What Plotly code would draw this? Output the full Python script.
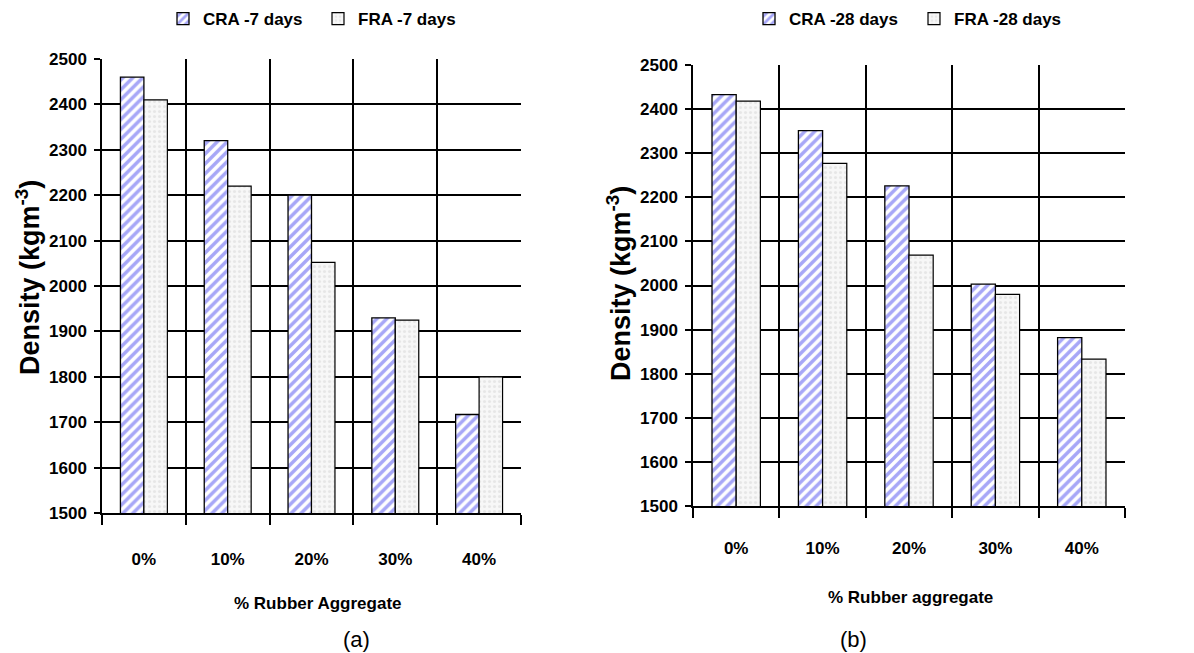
import plotly.graph_objects as go

categories = ["0%", "10%", "20%", "30%", "40%"]
cra_7 = [2460, 2320, 2200, 1930, 1717]
fra_7 = [2410, 2220, 2052, 1925, 1800]
cra_28 = [2433, 2351, 2226, 2003, 1882]
fra_28 = [2418, 2277, 2069, 1980, 1833]
y_ticks = list(range(1500, 2501, 100))

W, H = 1194, 653
ARIAL = "Liberation Sans, Arial, sans-serif"
BLUE = "#4f4ff0"

def px_x(p):
    return p / W

def px_y(p):
    return 1 - p / H

cra_style = dict(color="white", line=dict(color="black", width=1.3),
                 pattern=dict(shape="/", fgcolor=BLUE, bgcolor="white", size=7, solidity=0.5))
fra_style = dict(color="#f7f7f7", line=dict(color="black", width=1.2),
                 pattern=dict(shape=".", fgcolor="#d6d6d6", bgcolor="#f7f7f7", size=5, solidity=0.3))

fig = go.Figure()
fig.add_trace(go.Bar(x=categories, y=cra_7, name="CRA -7 days", marker=cra_style,
                     xaxis="x", yaxis="y", legend="legend"))
fig.add_trace(go.Bar(x=categories, y=fra_7, name="FRA -7 days", marker=fra_style,
                     xaxis="x", yaxis="y", legend="legend"))
fig.add_trace(go.Bar(x=categories, y=cra_28, name="CRA -28 days", marker=cra_style,
                     xaxis="x2", yaxis="y2", legend="legend2"))
fig.add_trace(go.Bar(x=categories, y=fra_28, name="FRA -28 days", marker=fra_style,
                     xaxis="x2", yaxis="y2", legend="legend2"))

tickfont = dict(family=ARIAL, size=17, color="black", weight="bold")

def xax(domain, anchor, standoff):
    return dict(domain=domain, anchor=anchor, type="category", tickson="boundaries",
                showgrid=True, gridcolor="black", gridwidth=1.5,
                ticks="outside", ticklen=10, tickcolor="black", tickwidth=1.5,
                showline=True, linecolor="black", linewidth=1.5,
                tickfont=tickfont, ticklabelstandoff=standoff, fixedrange=True)

def yax(domain, anchor):
    return dict(domain=domain, anchor=anchor, range=[1500, 2500], tickmode="array",
                tickvals=y_ticks, showgrid=True, gridcolor="black", gridwidth=1.5,
                ticks="outside", ticklen=6, tickcolor="black", tickwidth=1.5,
                showline=True, linecolor="black", linewidth=1.5, zeroline=False,
                tickfont=tickfont, ticklabelstandoff=4, fixedrange=True)

legfont = dict(family=ARIAL, size=17, color="black", weight="bold")

def ann(text, x, y, size, bold=True, angle=0):
    f = dict(family=ARIAL, size=size, color="black")
    if bold:
        f["weight"] = "bold"
    return dict(text=text, x=px_x(x), y=px_y(y), xref="paper", yref="paper",
                xanchor="center", yanchor="middle", showarrow=False,
                textangle=angle, font=f)

fig.update_layout(
    width=W, height=H, margin=dict(l=0, r=0, t=0, b=0, autoexpand=False),
    paper_bgcolor="white", plot_bgcolor="white",
    barmode="group", bargap=0.44, bargroupgap=0,
    xaxis=xax([px_x(102), px_x(521)], "y", 30),
    yaxis=yax([px_y(513), px_y(59)], "x"),
    xaxis2=xax([px_x(693), px_x(1125)], "y2", 26),
    yaxis2=yax([px_y(506), px_y(65)], "x2"),
    legend=dict(orientation="h", x=px_x(163), y=px_y(1), xanchor="left", yanchor="top",
                font=legfont, bgcolor="rgba(0,0,0,0)", entrywidth=110, itemwidth=30),
    legend2=dict(orientation="h", x=px_x(749), y=px_y(1), xanchor="left", yanchor="top",
                 font=legfont, bgcolor="rgba(0,0,0,0)", entrywidth=120, itemwidth=30),
    annotations=[
        ann("Density (kgm<sup>-3</sup>)", 28, 278, 27, angle=-90),
        ann("Density (kgm<sup>-3</sup>)", 619, 284, 27, angle=-90),
        ann("% Rubber Aggregate", 318, 603, 17),
        ann("% Rubber aggregate", 910, 597, 17),
        ann("(a)", 356, 639, 22, bold=False),
        ann("(b)", 853, 639, 22, bold=False),
    ],
)

fig.write_html("out.html", config={"displayModeBar": False},
               post_script="document.body.style.margin='0';document.body.style.padding='0';")
